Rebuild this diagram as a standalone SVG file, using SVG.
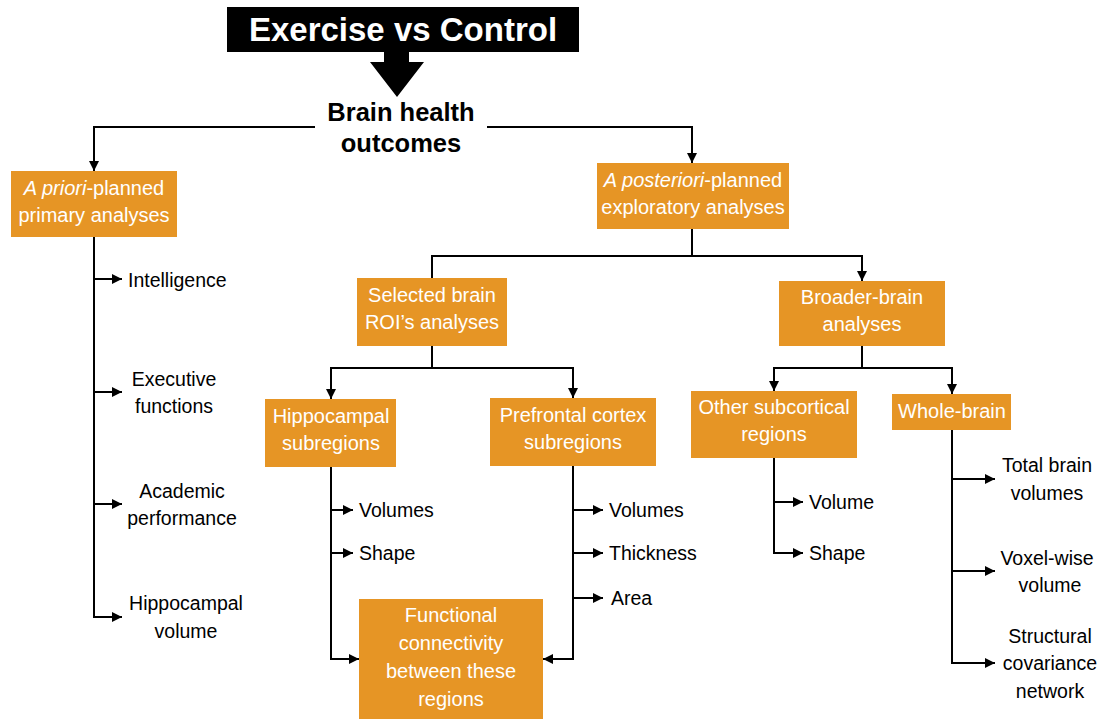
<svg xmlns="http://www.w3.org/2000/svg" width="1101" height="720" viewBox="0 0 1101 720">
<style>
.box{fill:#E69525;}
.bt{font-family:"Liberation Sans",Arial,sans-serif;font-size:20px;fill:#ffffff;text-anchor:middle;}
.lt{font-family:"Liberation Sans",Arial,sans-serif;font-size:19.5px;fill:#000000;}
.c{stroke:#000;stroke-width:2;fill:none;}
.bold{font-family:"Liberation Sans",Arial,sans-serif;font-weight:bold;text-anchor:middle;}
</style>
<defs>
<marker id="ah" viewBox="0 0 10 10" refX="10" refY="5" markerWidth="10" markerHeight="10" markerUnits="userSpaceOnUse" orient="auto">
<path d="M0,0 L10,5 L0,10 z" fill="#000"/>
</marker>
</defs>
<rect width="1101" height="720" fill="#ffffff"/>

<g id="title">
<rect x="227" y="7" width="352" height="45" fill="#000"/>
<text x="403" y="41" class="bold" font-size="33" fill="#fff">Exercise vs Control</text>
<polygon points="384,51 409,51 409,62 424,62 397,97 370,62 384,62" fill="#000"/>
</g>

<g id="brain-health">
<text class="bold" font-size="25.5" x="401" y="121">Brain health</text>
<text class="bold" font-size="25.5" x="401" y="152">outcomes</text>
</g>

<g id="connectors">
<polyline class="c" points="315,127 94,127 94,171" marker-end="url(#ah)"/>
<polyline class="c" points="487,127 692,127 692,163" marker-end="url(#ah)"/>
<line class="c" x1="94" y1="237" x2="94" y2="617"/>
<line class="c" x1="94" y1="279" x2="122" y2="279" marker-end="url(#ah)"/>
<line class="c" x1="94" y1="392" x2="122" y2="392" marker-end="url(#ah)"/>
<line class="c" x1="94" y1="504" x2="122" y2="504" marker-end="url(#ah)"/>
<line class="c" x1="93" y1="617" x2="122" y2="617" marker-end="url(#ah)"/>

<line class="c" x1="692" y1="229" x2="692" y2="256"/>
<polyline class="c" points="432,278 432,256 862,256 862,281" marker-end="url(#ah)"/>

<line class="c" x1="432" y1="346" x2="432" y2="368"/>
<polyline class="c" points="331,399 331,368 573,368 573,398" marker-end="url(#ah)"/>
<line class="c" x1="331" y1="368" x2="331" y2="399" marker-end="url(#ah)"/>

<polyline class="c" points="331,467 331,659 359,659" marker-end="url(#ah)"/>
<line class="c" x1="331" y1="510" x2="353" y2="510" marker-end="url(#ah)"/>
<line class="c" x1="331" y1="553" x2="353" y2="553" marker-end="url(#ah)"/>

<polyline class="c" points="573,466 573,659 543,659" marker-end="url(#ah)"/>
<line class="c" x1="573" y1="510" x2="603" y2="510" marker-end="url(#ah)"/>
<line class="c" x1="573" y1="553" x2="603" y2="553" marker-end="url(#ah)"/>
<line class="c" x1="573" y1="598" x2="603" y2="598" marker-end="url(#ah)"/>

<line class="c" x1="862" y1="346" x2="862" y2="368"/>
<polyline class="c" points="774,391 774,368 952,368 952,394" marker-end="url(#ah)"/>
<line class="c" x1="774" y1="368" x2="774" y2="391" marker-end="url(#ah)"/>

<polyline class="c" points="774,458 774,553 803,553" marker-end="url(#ah)"/>
<line class="c" x1="774" y1="502" x2="803" y2="502" marker-end="url(#ah)"/>

<polyline class="c" points="952,430 952,663 995,663" marker-end="url(#ah)"/>
<line class="c" x1="952" y1="479" x2="995" y2="479" marker-end="url(#ah)"/>
<line class="c" x1="952" y1="571" x2="995" y2="571" marker-end="url(#ah)"/>
</g>

<g id="a-priori">
<rect class="box" x="11" y="171" width="166" height="66"/>
<text class="bt" x="94" y="195"><tspan font-style="italic">A priori</tspan>-planned</text>
<text class="bt" x="94" y="222">primary analyses</text>
</g>

<g id="a-posteriori">
<rect class="box" x="597" y="163" width="192" height="66"/>
<text class="bt" x="693" y="187"><tspan font-style="italic">A posteriori</tspan>-planned</text>
<text class="bt" x="693" y="214">exploratory analyses</text>
</g>

<g id="selected-roi">
<rect class="box" x="357" y="278" width="150" height="68"/>
<text class="bt" x="432" y="302">Selected brain</text>
<text class="bt" x="432" y="329">ROI’s analyses</text>
</g>

<g id="broader-brain">
<rect class="box" x="779" y="281" width="166" height="65"/>
<text class="bt" x="862" y="304">Broader-brain</text>
<text class="bt" x="862" y="331">analyses</text>
</g>

<g id="hippocampal-sub">
<rect class="box" x="265" y="399" width="131" height="68"/>
<text class="bt" x="331" y="423">Hippocampal</text>
<text class="bt" x="331" y="450">subregions</text>
</g>

<g id="prefrontal-sub">
<rect class="box" x="490" y="398" width="166" height="68"/>
<text class="bt" x="573" y="422">Prefrontal cortex</text>
<text class="bt" x="573" y="449">subregions</text>
</g>

<g id="other-subcortical">
<rect class="box" x="691" y="391" width="166" height="67"/>
<text class="bt" x="774" y="414">Other subcortical</text>
<text class="bt" x="774" y="441">regions</text>
</g>

<g id="whole-brain">
<rect class="box" x="892" y="394" width="119" height="36"/>
<text class="bt" x="952" y="418">Whole-brain</text>
</g>

<g id="functional">
<rect class="box" x="359" y="599" width="184" height="120"/>
<text class="bt" x="451" y="622">Functional</text>
<text class="bt" x="451" y="650">connectivity</text>
<text class="bt" x="451" y="678">between these</text>
<text class="bt" x="451" y="706">regions</text>
</g>

<g id="leaves-left">
<text class="lt" x="128" y="287">Intelligence</text>
<text class="lt" x="174" y="386" text-anchor="middle">Executive</text>
<text class="lt" x="174" y="413" text-anchor="middle">functions</text>
<text class="lt" x="182" y="498" text-anchor="middle">Academic</text>
<text class="lt" x="182" y="525" text-anchor="middle">performance</text>
<text class="lt" x="186" y="610" text-anchor="middle">Hippocampal</text>
<text class="lt" x="186" y="638" text-anchor="middle">volume</text>
</g>

<g id="leaves-hippo">
<text class="lt" x="359" y="517">Volumes</text>
<text class="lt" x="359" y="560">Shape</text>
</g>

<g id="leaves-prefrontal">
<text class="lt" x="609" y="517">Volumes</text>
<text class="lt" x="609" y="560">Thickness</text>
<text class="lt" x="611" y="605">Area</text>
</g>

<g id="leaves-subcortical">
<text class="lt" x="809" y="509">Volume</text>
<text class="lt" x="809" y="560">Shape</text>
</g>

<g id="leaves-whole">
<text class="lt" x="1047" y="472" text-anchor="middle">Total brain</text>
<text class="lt" x="1047" y="500" text-anchor="middle">volumes</text>
<text class="lt" x="1047" y="565" text-anchor="middle">Voxel-wise</text>
<text class="lt" x="1050" y="592" text-anchor="middle">volume</text>
<text class="lt" x="1050" y="643" text-anchor="middle">Structural</text>
<text class="lt" x="1050" y="670" text-anchor="middle">covariance</text>
<text class="lt" x="1050" y="698" text-anchor="middle">network</text>
</g>
</svg>
